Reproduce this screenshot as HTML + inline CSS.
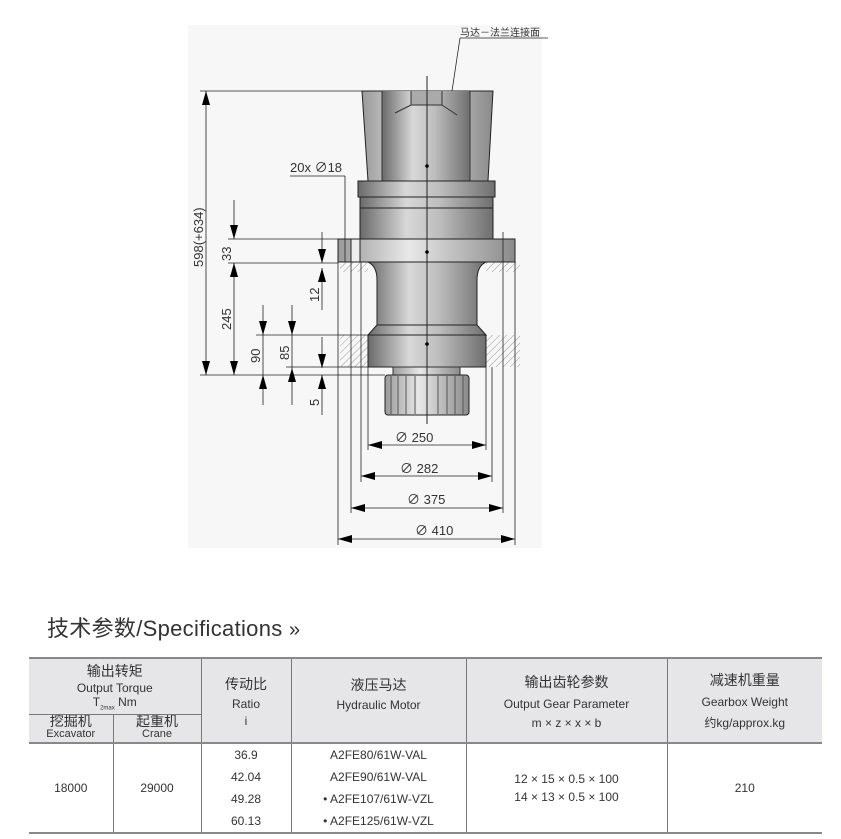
<!DOCTYPE html>
<html><head><meta charset="utf-8"><style>
body{margin:0;width:841px;height:839px;background:#fff;position:relative;overflow:hidden;font-family:"Liberation Sans","Noto Sans CJK SC",sans-serif;}
.t{position:absolute;color:#333;}
table{position:absolute;left:29px;top:657px;border-collapse:collapse;width:793px;table-layout:fixed;font-size:12px;color:#333;}
td{text-align:center;padding:0;border-left:1px solid #777;overflow:hidden;}
td:first-child{border-left:none;}
.h{background:#e6e6e8;}
.cn{font-size:14px;}
</style></head><body>
<svg width="841" height="600" style="position:absolute;left:0;top:0" font-family="Liberation Sans,Noto Sans CJK SC,sans-serif">
<defs>
<linearGradient id="g" x1="0" x2="1"><stop offset="0" stop-color="#6a6a6a"/><stop offset="0.35" stop-color="#d8d8d8"/><stop offset="0.6" stop-color="#bdbdbd"/><stop offset="1" stop-color="#6f6f6f"/></linearGradient>
<linearGradient id="g2" x1="0" x2="1"><stop offset="0" stop-color="#9a9a9a"/><stop offset="0.4" stop-color="#e8e8e8"/><stop offset="1" stop-color="#8a8a8a"/></linearGradient>
<pattern id="hp" width="5" height="5" patternUnits="userSpaceOnUse" patternTransform="rotate(45)"><line x1="0" y1="0" x2="0" y2="5" stroke="#999" stroke-width="1"/></pattern>
<marker id="a" markerUnits="userSpaceOnUse" markerWidth="14" markerHeight="8" refX="14" refY="4" orient="auto-start-reverse"><path d="M0,0L14,4L0,8z" fill="#000"/></marker>
</defs>
<rect x="188" y="25" width="354" height="523" fill="#f7f7f7"/>
<rect x="340" y="262" width="28" height="10" fill="url(#hp)"/>
<rect x="486" y="262" width="34" height="10" fill="url(#hp)"/>
<rect x="340" y="335" width="28" height="32" fill="url(#hp)"/>
<rect x="486" y="335" width="34" height="32" fill="url(#hp)"/>
<polygon points="362,91 493,91 488,181 368,181" fill="url(#g2)" stroke="#222"/>
<rect x="382" y="91" width="88" height="90" fill="url(#g)"/>
<line x1="382" y1="91" x2="382" y2="181" stroke="#333"/><line x1="470" y1="91" x2="470" y2="181" stroke="#333"/>
<path d="M411,91V105H442V91M395,113L411,105M442,105L457,115" stroke="#333" fill="#aaa"/>
<rect x="358" y="181" width="137" height="16" fill="url(#g)" stroke="#222"/>
<rect x="360" y="197" width="133" height="42" fill="url(#g)" stroke="#222"/>
<line x1="360" y1="208" x2="493" y2="208" stroke="#222"/>
<rect x="338" y="239" width="177" height="23" fill="url(#g2)" stroke="#222"/>
<rect x="351" y="239" width="9" height="23" fill="#eee" stroke="#222"/>
<path d="M368,262 Q377,266 377,280 V325 L368,335 H486 L477,325 V280 Q477,266 486,262Z" fill="url(#g)" stroke="#222"/>
<line x1="377" y1="325" x2="477" y2="325" stroke="#222"/>
<rect x="368" y="335" width="118" height="32" fill="url(#g)" stroke="#222"/>
<rect x="393" y="367" width="67" height="8" fill="url(#g2)" stroke="#333"/>
<rect x="385" y="375" width="84" height="40" rx="3" fill="url(#g2)" stroke="#222"/>
<g stroke="#555"><line x1="391" y1="376" x2="391" y2="414"/><line x1="398" y1="376" x2="398" y2="414"/><line x1="406" y1="376" x2="406" y2="414"/><line x1="415" y1="376" x2="415" y2="414"/><line x1="438" y1="376" x2="438" y2="414"/><line x1="447" y1="376" x2="447" y2="414"/><line x1="455" y1="376" x2="455" y2="414"/><line x1="463" y1="376" x2="463" y2="414"/></g>
<line x1="427" y1="76" x2="427" y2="424" stroke="#222"/>
<circle cx="427" cy="166" r="1.8"/><circle cx="427" cy="252" r="1.8"/><circle cx="427" cy="344" r="1.8"/>
<g stroke="#222" fill="none" stroke-width="0.8">
<line x1="200" y1="91" x2="362" y2="91"/>
<line x1="228" y1="239" x2="338" y2="239"/>
<line x1="228" y1="263" x2="338" y2="263"/>
<line x1="256" y1="335" x2="368" y2="335"/>
<line x1="286" y1="367" x2="368" y2="367"/>
<line x1="200" y1="375" x2="385" y2="375"/>
<line x1="338" y1="262" x2="338" y2="545"/><line x1="515" y1="262" x2="515" y2="545"/>
<line x1="351" y1="262" x2="351" y2="513"/><line x1="503" y1="232" x2="503" y2="513"/>
<line x1="361" y1="262" x2="361" y2="482"/><line x1="492" y1="367" x2="492" y2="482"/>
<line x1="368" y1="367" x2="368" y2="450"/><line x1="486" y1="367" x2="486" y2="450"/>
<line x1="345" y1="176" x2="345" y2="262"/>
<line x1="290" y1="176" x2="345" y2="176"/>
<line x1="460" y1="38" x2="548" y2="38"/><line x1="460" y1="38" x2="452" y2="91"/>
<line x1="206" y1="91" x2="206" y2="375" marker-start="url(#a)" marker-end="url(#a)"/>
<line x1="234" y1="200" x2="234" y2="239" marker-end="url(#a)"/>
<line x1="234" y1="263" x2="234" y2="375" marker-start="url(#a)" marker-end="url(#a)"/>
<line x1="263" y1="305" x2="263" y2="335" marker-end="url(#a)"/>
<line x1="263" y1="405" x2="263" y2="375" marker-end="url(#a)"/>
<line x1="263" y1="335" x2="263" y2="375"/>
<line x1="292" y1="305" x2="292" y2="335" marker-end="url(#a)"/>
<line x1="292" y1="405" x2="292" y2="368" marker-end="url(#a)"/>
<line x1="292" y1="335" x2="292" y2="368"/>
<line x1="322" y1="232" x2="322" y2="263" marker-end="url(#a)"/>
<line x1="322" y1="310" x2="322" y2="268" marker-end="url(#a)"/>
<line x1="322" y1="337" x2="322" y2="368" marker-end="url(#a)"/>
<line x1="322" y1="415" x2="322" y2="375" marker-end="url(#a)"/>
<line x1="368" y1="445" x2="486" y2="445" marker-start="url(#a)" marker-end="url(#a)"/>
<line x1="361" y1="476" x2="492" y2="476" marker-start="url(#a)" marker-end="url(#a)"/>
<line x1="351" y1="508" x2="503" y2="508" marker-start="url(#a)" marker-end="url(#a)"/>
<line x1="338" y1="539" x2="515" y2="539" marker-start="url(#a)" marker-end="url(#a)"/>
</g>
<g font-size="13" fill="#333">
<text x="460" y="36" font-size="10">马达－法兰连接面</text>
<text x="290" y="172">20x ∅18</text>
<text x="395" y="442">∅ 250</text>
<text x="400" y="473">∅ 282</text>
<text x="407" y="504">∅ 375</text>
<text x="415" y="535">∅ 410</text>
<text transform="translate(203,267) rotate(-90)">598(+634)</text>
<text transform="translate(231,261) rotate(-90)">33</text>
<text transform="translate(231,330) rotate(-90)">245</text>
<text transform="translate(260,363) rotate(-90)">90</text>
<text transform="translate(289,360) rotate(-90)">85</text>
<text transform="translate(319,302) rotate(-90)">12</text>
<text transform="translate(319,406) rotate(-90)">5</text>
</g>
</svg>
<div class="t" style="left:47px;top:611px;font-size:22px;letter-spacing:0.3px">技术参数/Specifications <span style="font-size:20px">»</span></div>
<table>
<colgroup><col style="width:84px"><col style="width:88px"><col style="width:90px"><col style="width:175px"><col style="width:201px"><col style="width:155px"></colgroup>
<tr class="h" style="height:56px;border-top:2px solid #888;"><td colspan="2"><div class="cn">输出转矩</div><div>Output Torque</div><div>T<sub style="font-size:6px">2max</sub> Nm</div></td>
<td rowspan="2"><div class="cn">传动比</div><div style="margin:3px 0">Ratio</div><div>i</div></td>
<td rowspan="2"><div class="cn">液压马达</div><div style="margin-top:3px">Hydraulic Motor</div><div>&nbsp;</div></td>
<td rowspan="2"><div class="cn">输出齿轮参数</div><div style="margin:5px 0">Output Gear Parameter</div><div>m × z × x × b</div></td>
<td rowspan="2"><div class="cn">减速机重量</div><div style="margin:5px 0">Gearbox Weight</div><div>约kg/approx.kg</div></td></tr>
<tr class="h" style="height:29px;border-bottom:2px solid #888;"><td style="border-top:1px solid #777;line-height:13px"><div class="cn">挖掘机</div><div style="font-size:11px">Excavator</div></td><td style="border-top:1px solid #777;line-height:13px"><div class="cn">起重机</div><div style="font-size:11px">Crane</div></td></tr>
<tr style="height:89px;border-bottom:2px solid #888;"><td>18000</td><td>29000</td>
<td style="line-height:22px">36.9<br>42.04<br>49.28<br>60.13</td>
<td style="line-height:22px">A2FE80/61W-VAL<br>A2FE90/61W-VAL<br>• A2FE107/61W-VZL<br>• A2FE125/61W-VZL</td>
<td style="line-height:18px">12 × 15 × 0.5 × 100<br>14 × 13 × 0.5 × 100</td><td>210</td></tr>
</table>
</body></html>
